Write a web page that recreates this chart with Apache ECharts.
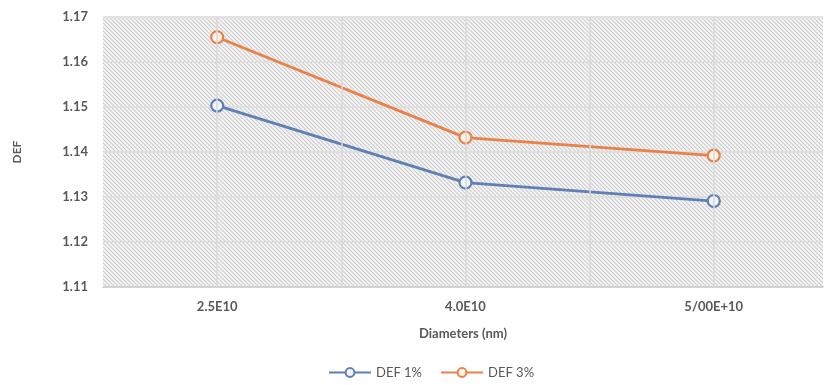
<!DOCTYPE html>
<html>
<head>
<meta charset="utf-8">
<script src="https://cdn.jsdelivr.net/npm/echarts@6/dist/echarts.min.js"></script>
<style>
html,body{margin:0;padding:0;background:#fff;}
#chart{width:829px;height:385px;}
</style>
</head>
<body>
<div id="chart"></div>
<script>
// ---- data ----
const categories = ['2.5E10', '4.0E10', '5/00E+10'];
const def1 = [1.1503, 1.1332, 1.1291];
const def3 = [1.1655, 1.1432, 1.1392];
const seriesNames = ['DEF 1%', 'DEF 3%'];
const yTicks = [1.11, 1.12, 1.13, 1.14, 1.15, 1.16, 1.17];
const xGridValues = [0, 0.5, 1, 1.5, 2];

// hatch pattern
function makeHatch() {
  const s = 4;
  const c = document.createElement('canvas');
  c.width = s; c.height = s;
  const g = c.getContext('2d');
  g.fillStyle = '#f7f7f7';
  g.fillRect(0, 0, s, s);
  g.strokeStyle = '#cdcdcd';
  g.lineWidth = 1.2;
  g.beginPath();
  g.moveTo(-1, -1); g.lineTo(s + 1, s + 1);
  g.moveTo(-1 - s, -1); g.lineTo(1, s + 1);
  g.moveTo(s - 1, -1); g.lineTo(2 * s + 1, s + 1);
  g.stroke();
  return c;
}

const textColor = '#595959';
const fontFamily = 'Lato, "Open Sans", sans-serif';
const chart = echarts.init(document.getElementById('chart'));

function pts(arr) { return arr.map((v, i) => [i, v]); }

const colors = ['#5f7fb5', '#e8824a'];

chart.setOption({
  animation: false,
  textStyle: { fontFamily: fontFamily },
  grid: {
    left: 103, right: 6, top: 17, bottom: 98,
    show: true,
    borderWidth: 0,
    backgroundColor: { image: makeHatch(), repeat: 'repeat' }
  },
  xAxis: {
    type: 'value',
    min: -0.46, max: 2.44,
    name: 'Diameters (nm)',
    nameLocation: 'middle',
    nameGap: 40,
    nameTextStyle: { color: textColor, fontWeight: 'bold', fontSize: 13, fontFamily: fontFamily },
    axisLine: { show: true, onZero: false, lineStyle: { color: '#cccccc', width: 1.5 } },
    axisTick: { show: false },
    splitLine: { show: false },
    axisLabel: {
      customValues: [0, 1, 2],
      formatter: v => categories[Math.round(v)] || '',
      color: textColor, fontWeight: 'bold', fontSize: 13, margin: 13, fontFamily: fontFamily
    }
  },
  yAxis: {
    type: 'value',
    min: yTicks[0], max: yTicks[yTicks.length - 1], interval: 0.01,
    name: 'DEF',
    nameLocation: 'middle',
    nameGap: 80,
    nameRotate: 90,
    nameTextStyle: { color: textColor, fontWeight: 'bold', fontSize: 12, fontFamily: fontFamily },
    axisLine: { show: false },
    axisTick: { show: false },
    splitLine: { show: true, lineStyle: { color: '#dcdcdc', width: 1.5 } },
    axisLabel: {
      formatter: v => v.toFixed(2),
      color: textColor, fontWeight: 'bold', fontSize: 13, margin: 15, fontFamily: fontFamily
    }
  },
  legend: {
    bottom: 1,
    left: 323,
    itemWidth: 42,
    itemHeight: 11,
    itemGap: 18,
    textStyle: { color: textColor, fontSize: 13, fontFamily: fontFamily },
    data: seriesNames
  },
  series: [
    {
      name: 'grid',
      type: 'line',
      data: [],
      silent: true,
      z: 1,
      markLine: {
        silent: true,
        symbol: ['none', 'none'],
        label: { show: false },
        lineStyle: { color: '#d8d8d8', type: 'solid', width: 1.5 },
        data: xGridValues.map(v => ({ xAxis: v }))
      }
    },
    {
      name: seriesNames[0],
      type: 'line',
      z: 3,
      data: pts(def1),
      symbol: 'circle',
      symbolSize: 12,
      lineStyle: { color: colors[0], width: 2.8 },
      itemStyle: { color: '#f2f6fc', borderColor: colors[0], borderWidth: 2.2 }
    },
    {
      name: seriesNames[1],
      type: 'line',
      z: 3,
      data: pts(def3),
      symbol: 'circle',
      symbolSize: 12,
      lineStyle: { color: colors[1], width: 2.8 },
      itemStyle: { color: '#fdf3ea', borderColor: colors[1], borderWidth: 2.2 }
    }
  ]
});
</script>
</body>
</html>
